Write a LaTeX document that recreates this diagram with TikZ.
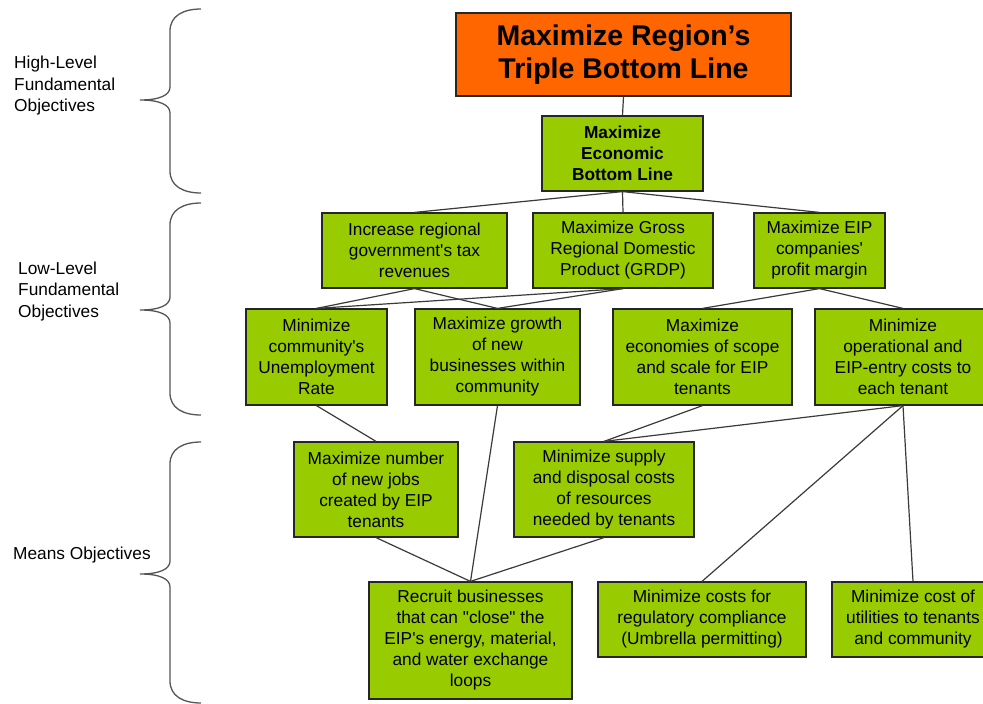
\documentclass[tikz,border=0pt]{standalone}
\usepackage{fontspec}
\setmainfont{Liberation Sans}[Ligatures=TeXOff]
\definecolor{objgreen}{HTML}{99CC00}
\definecolor{objorange}{HTML}{FF6600}
\definecolor{linkgray}{HTML}{3A3A3A}
\definecolor{bracegray}{HTML}{555555}
\tikzset{
  objbox/.style={draw=black!85, line width=1.2pt, fill=objgreen, align=center,
    inner sep=0pt, font=\fontsize{17.3}{21}\selectfont},
  topbox/.style={objbox, fill=objorange, font=\bfseries\fontsize{28.5}{33}\selectfont},
  keybox/.style={objbox, font=\bfseries\fontsize{17.3}{21}\selectfont},
  link/.style={draw=linkgray, line width=1.2pt},
  bracestyle/.style={draw=bracegray, line width=1.3pt},
  levellabel/.style={anchor=west, align=left, inner sep=0pt,
    font=\fontsize{17.3}{21.5}\selectfont}
}
% curly bracket: top y, tip y, bottom y
\newcommand\levelbrace[3]{%
  \draw[bracestyle] (201,#1) .. controls (183,#1) and (170,#1+7) .. (170,#1+22)
    -- (170,#2-13) .. controls (170,#2-5) and (160,#2) .. (140,#2)
    .. controls (160,#2) and (170,#2+5) .. (170,#2+13)
    -- (170,#3-22) .. controls (170,#3-7) and (183,#3) .. (201,#3);}
\begin{document}
\begin{tikzpicture}[x=1pt,y=-1pt]
\useasboundingbox (0,0) rectangle (983,704);
\clip (0,0) rectangle (983,704);

% level labels and braces
\node[levellabel] (lblhigh) at (14,86) {High-Level\\Fundamental\\Objectives};
\node[levellabel] (lbllow) at (18,291.5) {Low-Level\\Fundamental\\Objectives};
\node[levellabel] (lblmeans) at (13,555) {Means Objectives};
\levelbrace{9}{100}{193}
\levelbrace{203}{310}{415}
\levelbrace{442}{574}{703}

% objectives
\node[topbox, minimum width=335pt, minimum height=83pt] (triple) at (623.5,54.5)
  {Maximize Region’s\\Triple Bottom Line};
\node[keybox, minimum width=161pt, minimum height=75pt] (econ) at (622.5,153.5)
  {Maximize\\Economic\\Bottom Line};

\node[objbox, minimum width=185pt, minimum height=75pt] (tax) at (414.5,250.5)
  {Increase regional\\government's tax\\revenues};
\node[objbox, minimum width=180pt, minimum height=75pt] (grdp) at (623,250.5)
  {Maximize Gross\\Regional Domestic\\Product (GRDP)};
\node[objbox, minimum width=131pt, minimum height=75pt] (profit) at (819.5,250.5)
  {Maximize EIP\\companies'\\profit margin};

\node[objbox, minimum width=141pt, minimum height=96pt] (unemp) at (316.5,357)
  {Minimize\\community's\\Unemployment\\Rate};
\node[objbox, minimum width=165pt, minimum height=96pt] (growth) at (497.5,357)
  {Maximize growth\\of new\\businesses within\\community};
\node[objbox, minimum width=179pt, minimum height=96pt] (scope) at (702.5,357)
  {Maximize\\economies of scope\\and scale for EIP\\tenants};
\node[objbox, minimum width=176pt, minimum height=96pt] (opcost) at (903,357)
  {Minimize\\operational and\\EIP-entry costs to\\each tenant};

\node[objbox, minimum width=164pt, minimum height=95pt] (jobs) at (376,489.5)
  {Maximize number\\of new jobs\\created by EIP\\tenants};
\node[objbox, minimum width=180pt, minimum height=95pt] (supply) at (604,489.5)
  {Minimize supply\\and disposal costs\\of resources\\needed by tenants};

\node[objbox, minimum width=203pt, minimum height=117pt] (recruit) at (470.5,640.5)
  {Recruit businesses\\that can "close" the\\EIP's energy, material,\\and water exchange\\loops};
\node[objbox, minimum width=208pt, minimum height=75pt] (permit) at (702,619.5)
  {Minimize costs for\\regulatory compliance\\(Umbrella permitting)};
\node[objbox, minimum width=162pt, minimum height=75pt] (util) at (913,619.5)
  {Minimize cost of\\utilities to tenants\\and community};

% connectors between objectives
\path[link] (triple.south) -- (econ.north);
\path[link] (econ.south) -- (tax.north);
\path[link] (econ.south) -- (grdp.north);
\path[link] (econ.south) -- (profit.north);
\path[link] (tax.south) -- (unemp.north);
\path[link] (tax.south) -- (growth.north);
\path[link] (grdp.south) -- (unemp.north);
\path[link] (grdp.south) -- (growth.north);
\path[link] (profit.south) -- (scope.north);
\path[link] (profit.south) -- (opcost.north);
\path[link] (unemp.south) -- (jobs.north);
\path[link] (growth.south) -- (recruit.north);
\path[link] (scope.south) -- (supply.north);
\path[link] (opcost.south) -- (supply.north);
\path[link] (opcost.south) -- (permit.north);
\path[link] (opcost.south) -- (util.north);
\path[link] (jobs.south) -- (recruit.north);
\path[link] (supply.south) -- (recruit.north);
\end{tikzpicture}
\end{document}
